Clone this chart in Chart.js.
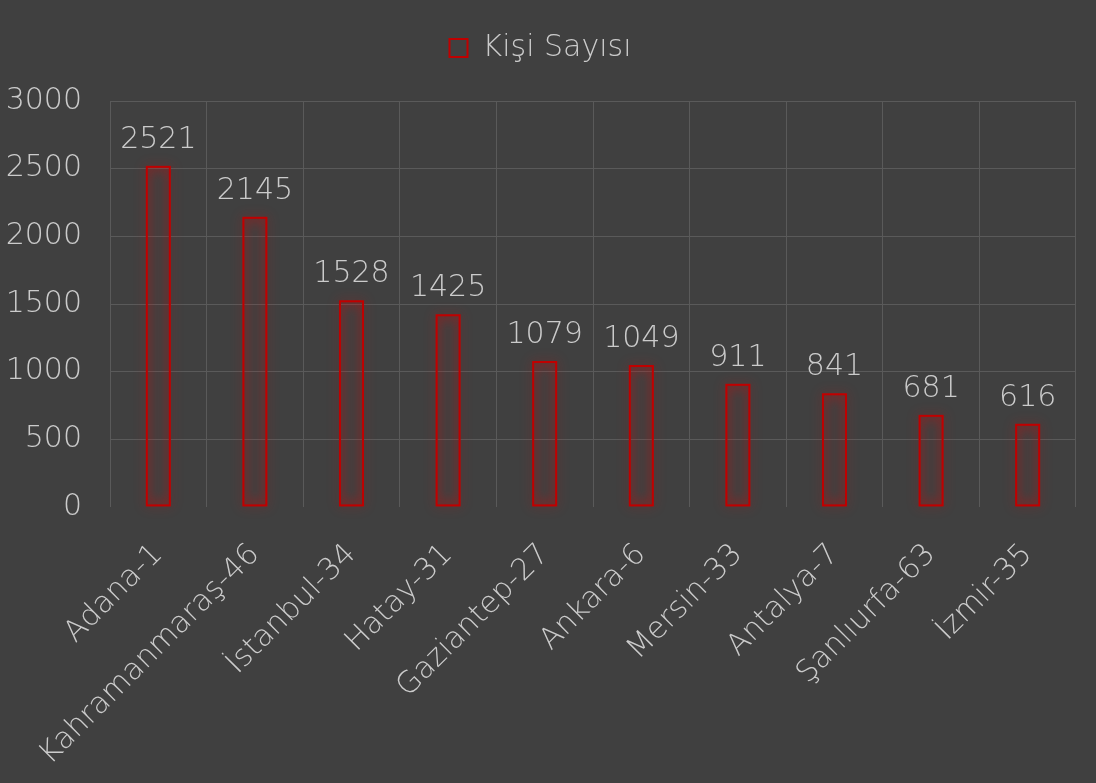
<!DOCTYPE html>
<html>
<head>
<meta charset="utf-8">
<script src="https://cdn.jsdelivr.net/npm/chart.js@4/dist/chart.umd.min.js"></script>
<style>
  html, body { margin: 0; padding: 0; background: #404040; }
  #wrap { width: 1096px; height: 783px; }
</style>
</head>
<body>
<div id="wrap"><canvas id="c" width="1096" height="783"></canvas></div>
<script>
const categories = ['Adana-1', 'Kahramanmaraş-46', 'İstanbul-34', 'Hatay-31', 'Gaziantep-27', 'Ankara-6', 'Mersin-33', 'Antalya-7', 'Şanlıurfa-63', 'İzmir-35'];
const seriesName = 'Kişi Sayısı';
const values = [2521, 2145, 1528, 1425, 1079, 1049, 911, 841, 681, 616];
const yMin = 0, yMax = 3000, yStep = 500;

const FONT = "'DejaVu Sans', sans-serif";
const TEXT = '#CBCBCB';
const GRID = '#5A5A5A';
const RED = '#C00000';

const legendSpace = {
  id: 'legendSpace',
  afterInit(chart) {
    const lg = chart.legend;
    if (lg && !lg._patched) {
      const orig = lg.fit;
      lg.fit = function () { orig.call(this); this.height += 28; };
      lg._patched = true;
    }
  }
};

const glow = {
  id: 'glow',
  beforeDatasetDraw(chart) {
    const ctx = chart.ctx;
    ctx.save();
    ctx.shadowColor = 'rgba(230,0,0,1)';
    ctx.shadowBlur = 12;
    chart.getDatasetMeta(0).data.forEach((bar) => {
      const p = bar.getProps(['x', 'y', 'base', 'width'], true);
      ctx.strokeStyle = 'rgba(192,0,0,0.45)';
      ctx.lineWidth = 2;
      ctx.strokeRect(p.x - p.width / 2 + 1, p.y + 1, p.width - 2, p.base - p.y - 2);
    });
  },
  afterDatasetDraw(chart) {
    chart.ctx.restore();
  },
  afterDatasetsDraw(chart) {
    const ctx = chart.ctx;
    ctx.save();
    ctx.font = `200 30px ${FONT}`;
    ctx.fillStyle = TEXT;
    ctx.textAlign = 'center';
    ctx.textBaseline = 'alphabetic';
    chart.getDatasetMeta(0).data.forEach((bar, i) => {
      ctx.fillText(String(values[i]), bar.x, bar.y - 18);
    });
    ctx.restore();
  }
};

new Chart(document.getElementById('c'), {
  type: 'bar',
  data: {
    labels: categories,
    datasets: [{
      label: seriesName,
      data: values,
      backgroundColor: 'rgba(0,0,0,0)',
      borderColor: RED,
      borderWidth: 2,
      borderSkipped: false,
      barPercentage: 0.52,
      categoryPercentage: 0.5
    }]
  },
  options: {
    responsive: false,
    animation: false,
    layout: { padding: { left: 5, right: 20, top: 21, bottom: 0 } },
    plugins: {
      legend: {
        position: 'top',
        labels: {
          color: TEXT,
          font: { family: FONT, size: 30, weight: 200 },
          boxWidth: 18,
          boxHeight: 18,
          padding: 12
        }
      },
      tooltip: { enabled: false }
    },
    scales: {
      x: {
        grid: { color: GRID, lineWidth: 1, offset: true, drawTicks: false },
        border: { display: false },
        ticks: {
          color: TEXT,
          font: { family: FONT, size: 30, weight: 200 },
          minRotation: 45,
          maxRotation: 45,
          padding: 30,
          autoSkip: false
        },
        afterFit(s) { s.height = 276; }
      },
      y: {
        min: yMin,
        max: yMax,
        grid: {
          color: (c) => (c.tick && c.tick.value === 0 ? 'rgba(0,0,0,0)' : GRID),
          drawTicks: false
        },
        border: { display: false },
        ticks: {
          stepSize: yStep,
          color: TEXT,
          font: { family: FONT, size: 30, weight: 200 },
          padding: 28,
          callback: (v) => String(v)
        },
        afterFit(s) { s.width = 105; }
      }
    }
  },
  plugins: [legendSpace, glow]
});
</script>
</body>
</html>
